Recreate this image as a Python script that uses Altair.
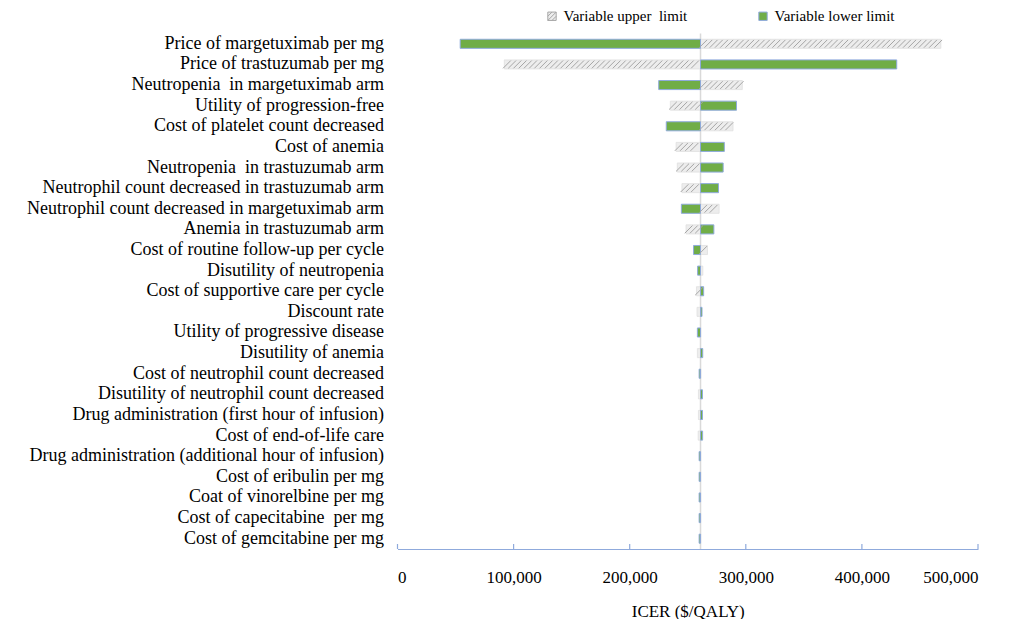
import altair as alt
import pandas as pd
import numpy as np

NB = "\u00a0"  # keeps the reference's doubled / trailing spaces visible in SVG

params = [
    "Price of margetuximab per mg",
    "Price of trastuzumab per mg",
    "Neutropenia " + NB + "in margetuximab arm",
    "Utility of progression-free" + NB,
    "Cost of platelet count decreased" + NB,
    "Cost of anemia" + NB,
    "Neutropenia " + NB + "in trastuzumab arm",
    "Neutrophil count decreased in trastuzumab arm",
    "Neutrophil count decreased in margetuximab arm",
    "Anemia in trastuzumab arm",
    "Cost of routine follow-up per cycle",
    "Disutility of neutropenia",
    "Cost of supportive care per cycle",
    "Discount rate",
    "Utility of progressive disease",
    "Disutility of anemia",
    "Cost of neutrophil count decreased" + NB,
    "Disutility of neutrophil count decreased",
    "Drug administration (first hour of infusion)",
    "Cost of end-of-life care",
    "Drug administration (additional hour of infusion)",
    "Cost of eribulin per mg",
    "Coat of vinorelbine per mg",
    "Cost of capecitabine " + NB + "per mg",
    "Cost of gemcitabine per mg",
]

upper_limit = [468000, 92000, 297000, 235000, 289000, 240000, 241000, 245000,
               277000, 248500, 267000, 263000, 257500, 258000, 261200, 258300,
               261300, 259200, 259200, 259000, 261200, 261200, 261200, 261200, 261200]
lower_limit = [54000, 430000, 225000, 292000, 231500, 281500, 280500, 276500,
               244500, 272500, 255000, 258500, 263700, 262300, 258300, 262900,
               259800, 262700, 262700, 262800, 259800, 259800, 259800, 259800, 259800]
base_icer = 261000
x_ticks = [0, 100000, 200000, 300000, 400000, 500000]

UP = "Variable upper " + NB + "limit"
LO = "Variable lower limit"

up_df = pd.DataFrame({"param": params, "value": upper_limit, "base": base_icer})
lo_df = pd.DataFrame({"param": params, "value": lower_limit, "base": base_icer})

# hatch stroke positions derived from the hatched (upper-limit) bars
step = 4500
hatch = []
for p, u in zip(params, upper_limit):
    lo, hi = min(u, base_icer), max(u, base_icer)
    for xv in np.arange(lo + step / 2, hi - step / 4, step):
        hatch.append({"param": p, "value": float(xv)})
hatch_df = pd.DataFrame(hatch)

W, H = 580.5, 515.5
FONT = "Liberation Serif"
hatch_path = "M-1,-1H1V1H-1Z M-1,0L0,-1 M-1,1L1,-1 M0,1L1,0"

yscale = alt.Scale(paddingInner=0.56, paddingOuter=0.28)
yenc = alt.Y("param:N", sort=params, scale=yscale, title=None)
xscale = alt.Scale(domain=[0, 500000], nice=False)
xenc = alt.X("value:Q", scale=xscale, title="ICER ($/QALY)",
             axis=alt.Axis(values=x_ticks,
                           labelExpr="format(datum.value, ',')"))

base_rule = alt.Chart(pd.DataFrame({"value": [base_icer]})).mark_rule(
    color="#D9D9D9", strokeWidth=1.5).encode(x=xenc)

up_bars = alt.Chart(up_df).mark_bar(fill="#EDEDED", stroke="#E0E0E0", strokeWidth=0.8).encode(
    y=yenc, x=xenc, x2="base:Q")

lo_bars = alt.Chart(lo_df).mark_bar(fill="#70AD47", stroke="#8FAADC", strokeWidth=1).encode(
    y=yenc, x=xenc, x2="base:Q")

hatch_marks = alt.Chart(hatch_df).mark_point(
    shape="M-1,1L1,-1", size=60, stroke="#A6A6A6", strokeWidth=1, filled=False,
    opacity=1).encode(y=yenc, x=xenc)

tick_rules = alt.Chart(pd.DataFrame({"value": x_ticks})).mark_rule(
    color="#8FAADC", strokeWidth=1.2).encode(
    x=xenc, y=alt.value(H - 5), y2=alt.value(H))

leg = alt.Legend(title=None, orient="none", legendX=147, legendY=-25,
                 direction="horizontal", columns=2, columnPadding=68, padding=0,
                 symbolSize=70, labelFont=FONT, labelFontSize=15,
                 labelColor="#000000", symbolOpacity=1, symbolStrokeWidth=1)

legend_df = pd.DataFrame({"limit": [UP, LO]})
legend_layer = alt.Chart(legend_df).mark_point(filled=True, strokeWidth=1, opacity=1).encode(
    x=alt.value(-2000), y=alt.value(-2000),
    color=alt.Color("limit:N", scale=alt.Scale(domain=[UP, LO],
                                               range=["#EDEDED", "#70AD47"]),
                    legend=leg),
    shape=alt.Shape("limit:N", scale=alt.Scale(domain=[UP, LO],
                                               range=[hatch_path, "square"]),
                    legend=leg),
    stroke=alt.Stroke("limit:N", scale=alt.Scale(domain=[UP, LO],
                                                 range=["#A6A6A6", "#8FAADC"]),
                      legend=leg),
)

chart = alt.layer(base_rule, up_bars, lo_bars, hatch_marks, tick_rules,
                  legend_layer).properties(
    width=W, height=H,
    padding={"left": 389.5, "top": 25.5, "right": 30, "bottom": 70},
    autosize=alt.AutoSizeParams(type="none"),
    background="#FFFFFF",
).configure(font=FONT).configure_view(stroke=None).configure_axis(
    labelFont=FONT, titleFont=FONT,
).configure_axisX(
    grid=False, ticks=False, domainColor="#8FAADC", domainWidth=1.2,
    labelFont=FONT, labelFontSize=17, labelColor="#000000", labelPadding=20,
    titleFont=FONT, titleFontSize=17, titleFontWeight="normal",
    titleColor="#000000", titlePadding=18,
).configure_axisY(
    domain=False, ticks=False, grid=False, labelFont=FONT, labelFontSize=18,
    labelColor="#000000", labelPadding=14, labelLimit=0,
)

chart.save("out.html", embed_options={"renderer": "svg", "actions": False})
